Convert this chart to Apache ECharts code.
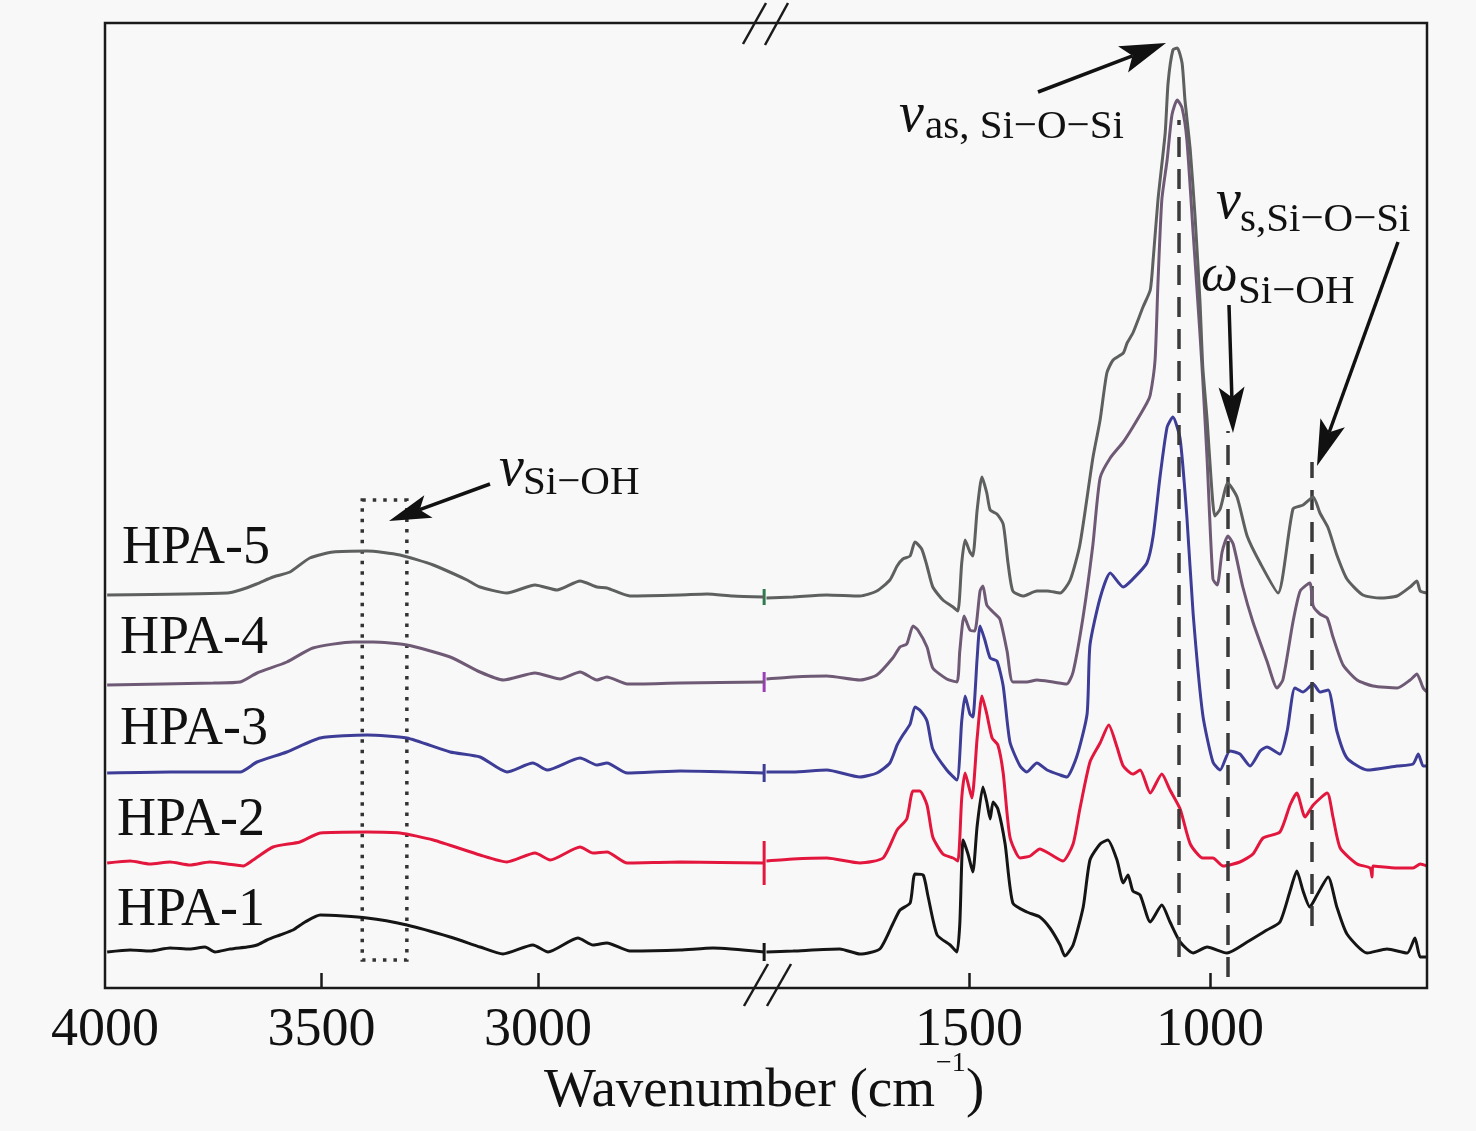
<!DOCTYPE html>
<html><head><meta charset="utf-8">
<script src="https://cdn.jsdelivr.net/npm/echarts@6/dist/echarts.min.js"></script>
<style>html,body{margin:0;padding:0;background:#f8f8f8}#c{width:1476px;height:1131px}</style>
</head><body><div id="c"></div><script>
// ---------------- data (wavenumber cm-1, relative absorbance, offset stacked) ----------------
const seriesNames = ['HPA-1', 'HPA-2', 'HPA-3', 'HPA-4', 'HPA-5'];
const leftTicks = [4000, 3500, 3000];
const rightTicks = [1500, 1000];
const leftRange = [2476, 4000];
const rightRange = [550, 1923];

const hpa1Left = [[3995,36],[3942,38],[3896,37],[3850,40],[3804,39],[3769,41],[3746,36],[3711,39],[3672,41],[3649,43],[3626,48],[3596,53],[3566,58],[3538,66],[3503,73],[3395,70],[3303,63],[3203,51],[3134,41],[3081,34],[3012,43],[2977,36],[2908,50],[2873,43],[2841,45],[2788,37],[2672,38],[2596,40],[2478,36]];
const hpa2Left = [[3995,125],[3942,127],[3896,124],[3850,126],[3804,123],[3758,126],[3718,124],[3681,122],[3658,128],[3612,141],[3550,146],[3503,155],[3395,156],[3319,155],[3242,148],[3134,133],[3072,126],[3007,135],[2972,128],[2903,141],[2873,135],[2841,136],[2794,125],[2672,126],[2478,125]];
const hpa3Left = [[3995,215],[3850,216],[3688,216],[3649,226],[3580,236],[3503,250],[3395,253],[3303,250],[3203,236],[3134,231],[3072,216],[3012,225],[2979,218],[2903,230],[2864,223],[2841,225],[2794,215],[2672,217],[2478,215]];
const hpa4Left = [[3995,303],[3750,305],[3688,306],[3649,315],[3580,326],[3520,340],[3427,346],[3381,346],[3303,343],[3203,331],[3134,316],[3080,308],[3007,315],[2949,309],[2903,316],[2864,308],[2841,311],[2794,304],[2672,305],[2478,306]];
const hpa5Left = [[3995,393],[3718,395],[3688,398],[3650,404],[3612,411],[3573,416],[3527,430],[3473,436],[3395,437],[3319,433],[3242,423],[3164,408],[3134,401],[3072,395],[3007,403],[2956,398],[2903,407],[2864,401],[2841,400],[2788,392],[2672,393],[2610,394],[2550,392],[2478,391]];

const hpa1Right = [[1920,36],[1865,37],[1768,39],[1726,34],[1685,39],[1658,64],[1643,78],[1622,85],[1612,114],[1595,113],[1585,92],[1566,53],[1539,43],[1525,36],[1519,64],[1512,148],[1502,134],[1492,116],[1483,162],[1471,201],[1463,186],[1456,169],[1450,186],[1440,179],[1425,144],[1409,85],[1380,76],[1353,71],[1332,60],[1311,43],[1301,32],[1284,43],[1263,81],[1249,128],[1228,144],[1212,148],[1193,128],[1180,105],[1170,113],[1160,97],[1145,93],[1124,66],[1100,83],[1083,66],[1062,46],[1035,35],[1006,41],[965,35],[923,46],[882,58],[855,66],[834,97],[820,117],[807,97],[793,81],[778,93],[755,111],[737,81],[716,54],[674,35],[633,39],[591,35],[575,50],[564,31],[550,31]];
const hpa2Right = [[1920,127],[1865,129],[1795,130],[1726,125],[1678,130],[1649,158],[1629,169],[1616,197],[1602,197],[1587,183],[1575,151],[1554,134],[1533,130],[1523,127],[1515,190],[1508,215],[1494,190],[1483,250],[1473,292],[1463,274],[1452,250],[1440,243],[1429,215],[1415,151],[1394,130],[1373,132],[1353,139],[1332,134],[1305,127],[1284,144],[1270,179],[1249,226],[1228,245],[1210,263],[1193,241],[1180,222],[1160,214],[1145,218],[1124,195],[1100,214],[1083,198],[1062,179],[1041,144],[1015,130],[994,130],[973,122],[938,126],[911,134],[890,150],[855,156],[834,183],[820,195],[803,171],[786,183],[757,195],[745,171],[730,140],[695,124],[668,120],[664,111],[662,122],[612,120],[579,120],[564,124],[550,122]];
const hpa3Right = [[1920,216],[1865,216],[1795,218],[1726,211],[1691,215],[1664,225],[1649,243],[1637,253],[1622,264],[1612,281],[1602,278],[1587,267],[1575,239],[1546,218],[1525,208],[1515,267],[1508,292],[1498,274],[1492,271],[1483,330],[1477,362],[1467,348],[1456,330],[1442,327],[1429,302],[1415,246],[1394,222],[1380,216],[1359,225],[1338,218],[1311,213],[1297,211],[1276,232],[1255,274],[1249,343],[1228,390],[1207,415],[1180,401],[1160,409],[1131,425],[1118,452],[1104,510],[1089,561],[1077,571],[1062,549],[1048,471],[1035,374],[1015,273],[994,226],[979,218],[959,237],[938,234],[917,222],[896,237],[882,241],[855,234],[840,257],[824,300],[807,296],[786,304],[772,296],[755,298],[737,257],[716,230],[674,218],[612,222],[579,224],[568,234],[558,222],[550,222]];
const hpa4Right = [[1920,309],[1865,311],[1795,312],[1726,308],[1691,313],[1658,330],[1643,341],[1629,344],[1616,362],[1606,358],[1587,341],[1575,320],[1546,309],[1525,306],[1519,337],[1510,372],[1498,358],[1488,357],[1477,397],[1471,402],[1463,383],[1450,376],[1436,369],[1421,337],[1409,306],[1380,306],[1359,308],[1326,306],[1297,304],[1284,316],[1263,372],[1243,443],[1228,510],[1207,530],[1180,546],[1160,561],[1131,585],[1124,593],[1114,628],[1108,705],[1100,788],[1089,828],[1079,873],[1068,888],[1058,880],[1048,848],[1035,755],[1021,655],[1015,608],[1006,528],[994,409],[985,403],[975,436],[963,452],[952,444],[932,401],[911,366],[882,327],[861,300],[849,308],[828,366],[813,397],[793,405],[786,382],[772,374],[757,370],[745,351],[724,323],[695,308],[662,302],[612,300],[585,308],[571,314],[558,300],[550,296]];
const hpa5Right = [[1920,390],[1865,391],[1795,393],[1726,392],[1691,397],[1664,408],[1649,422],[1637,429],[1622,432],[1612,446],[1598,439],[1587,422],[1575,401],[1554,388],[1533,381],[1523,377],[1515,425],[1508,448],[1498,436],[1492,432],[1483,478],[1473,511],[1463,495],[1456,478],[1442,474],[1429,464],[1419,425],[1409,397],[1388,392],[1359,397],[1338,397],[1311,395],[1290,408],[1270,443],[1243,530],[1228,568],[1214,615],[1201,628],[1180,635],[1172,645],[1160,655],[1139,681],[1124,698],[1118,728],[1108,788],[1093,855],[1087,905],[1077,938],[1068,940],[1058,925],[1052,888],[1041,838],[1031,771],[1021,688],[1015,621],[1006,568],[998,510],[990,472],[979,479],[963,505],[944,491],[923,452],[896,425],[859,395],[828,479],[807,483],[786,491],[772,475],[755,460],[737,433],[716,409],[683,393],[647,390],[612,392],[585,401],[571,407],[564,397],[550,395]];

// annotation guides (data coordinates)
const guideWavenumbers = [1064, 963, 788];
const guideSpans = [[31, 868], [11, 557], [62, 526]];
const siOHBox = [3406, 3303, 28, 488];
const breakTickSizes = [18, 44, 18, 20, 16];

// ---------------- styles ----------------
const lineColors = ['#151515', '#e3173d', '#3d3d98', '#6f5a75', '#5d605e'];
const breakColors = ['#151515', '#e3173d', '#3d3d98', '#9a3fb8', '#2f7a50'];
const FONT = 'Liberation Serif';
const leftData = [hpa1Left, hpa2Left, hpa3Left, hpa4Left, hpa5Left];
const rightData = [hpa1Right, hpa2Right, hpa3Right, hpa4Right, hpa5Right];

const series = [];
for (let i = 0; i < 5; i++) {
  const last = leftData[i][leftData[i].length - 1];
  const s = {
    name: seriesNames[i] + '-L', type: 'line', xAxisIndex: 0, yAxisIndex: 0,
    data: leftData[i], showSymbol: false, smooth: 0.2, silent: true,
    lineStyle: { width: 3, color: lineColors[i] }, z: 2 + i,
    markPoint: {
      symbol: 'rect', symbolSize: [3, breakTickSizes[i]], silent: true,
      label: { show: false }, itemStyle: { color: breakColors[i] },
      data: [{ coord: [last[0], last[1]] }]
    }
  };
  if (i === 0) {
    s.markArea = {
      silent: true,
      itemStyle: { color: 'rgba(0,0,0,0)', borderColor: '#333', borderWidth: 3.5, borderType: [3.5, 7] },
      data: [[{ coord: [siOHBox[0], siOHBox[3]] }, { coord: [siOHBox[1], siOHBox[2]] }]]
    };
  }
  series.push(s);
  const r = {
    name: seriesNames[i] + '-R', type: 'line', xAxisIndex: 1, yAxisIndex: 1,
    data: rightData[i], showSymbol: false, smooth: 0.2, silent: true,
    lineStyle: { width: 3, color: lineColors[i] }, z: 2 + i
  };
  if (i === 4) {
    r.markLine = {
      silent: true, symbol: 'none', label: { show: false },
      lineStyle: { color: '#3a3a3a', width: 3.5, type: [20, 12] },
      data: guideWavenumbers.map((w, k) => [{ coord: [w, guideSpans[k][0]] }, { coord: [w, guideSpans[k][1]] }])
    };
  }
  series.push(r);
}

function arrow(x1, y1, x2, y2, hl, hw) {
  const dx = x2 - x1, dy = y2 - y1, L = Math.hypot(dx, dy), ux = dx / L, uy = dy / L;
  const bx = x2 - ux * hl, by = y2 - uy * hl;
  const px = -uy * hw / 2, py = ux * hw / 2;
  const nx = bx + ux * hl * 0.22, ny = by + uy * hl * 0.22;
  return [
    { type: 'line', z: 50, shape: { x1: x1, y1: y1, x2: nx, y2: ny }, style: { stroke: '#111', lineWidth: 3.5 } },
    { type: 'polygon', z: 50, shape: { points: [[x2, y2], [bx + px, by + py], [nx, ny], [bx - px, by - py]] }, style: { fill: '#111' } }
  ];
}
function txt(x, y, t, size, opts) {
  return Object.assign({ type: 'text', z: 60, x: x, y: y,
    style: Object.assign({ text: t, font: size + 'px "' + FONT + '"', fill: '#111', align: 'left', verticalAlign: 'middle' }, opts || {}) });
}
function italic(x, y, t, size) {
  return { type: 'text', z: 60, x: x, y: y,
    style: { text: t, font: 'italic ' + size + 'px "' + FONT + '"', fill: '#111', align: 'left', verticalAlign: 'middle' } };
}

const graphics = [
  { type: 'rect', z: 40, shape: { x: 105, y: 23, width: 1322, height: 965 }, style: { fill: 'none', stroke: '#1a1a1a', lineWidth: 2.5 } },
  // axis-break marks
  { type: 'line', z: 41, shape: { x1: 743, y1: 44, x2: 766, y2: 3 }, style: { stroke: '#1a1a1a', lineWidth: 2.5 } },
  { type: 'line', z: 41, shape: { x1: 765, y1: 45, x2: 788, y2: 3 }, style: { stroke: '#1a1a1a', lineWidth: 2.5 } },
  { type: 'line', z: 41, shape: { x1: 744, y1: 1006, x2: 768, y2: 964 }, style: { stroke: '#1a1a1a', lineWidth: 2.5 } },
  { type: 'line', z: 41, shape: { x1: 767, y1: 1006, x2: 791, y2: 964 }, style: { stroke: '#1a1a1a', lineWidth: 2.5 } },
  // series labels
  txt(122, 549, 'HPA-5', 54), txt(120, 639, 'HPA-4', 54), txt(120, 730, 'HPA-3', 54),
  txt(117, 821, 'HPA-2', 54), txt(117, 911, 'HPA-1', 54),
  // annotations
  italic(499, 470, 'v', 56), txt(523, 483, 'Si\u2212OH', 41),
  italic(899, 116, 'v', 56), txt(925, 127, 'as, Si\u2212O\u2212Si', 41),
  italic(1216, 203, 'v', 56), txt(1240, 220, 's,Si\u2212O\u2212Si', 41),
  italic(1201, 276, '\u03c9', 52), txt(1238, 292, 'Si\u2212OH', 41),
  // axis title
  txt(935, 1092, 'Wavenumber (cm', 55, { align: 'right' }),
  txt(936, 1064, '\u22121', 28),
  txt(966, 1092, ')', 55)
].concat(
  arrow(1038, 92, 1166, 43, 46, 28),
  arrow(1229, 305, 1233, 433, 46, 26),
  arrow(1398, 242, 1317, 466, 46, 26),
  arrow(490, 484, 389, 521, 42, 24)
);

const axisTick = { inside: true, length: 15, lineStyle: { color: '#1a1a1a', width: 2.5 } };
const axisLabel = { fontFamily: FONT, fontSize: 54, color: '#111', margin: 16, formatter: (v) => String(v) };

const option = {
  backgroundColor: '#f8f8f8',
  animation: false,
  grid: [
    { left: 105, top: 23, width: 660, height: 965 },
    { left: 765, top: 23, width: 662, height: 965 }
  ],
  xAxis: [
    { gridIndex: 0, type: 'value', min: leftRange[0], max: leftRange[1], inverse: true,
      axisLine: { show: false }, splitLine: { show: false },
      axisTick: Object.assign({ customValues: leftTicks.slice(1) }, axisTick),
      axisLabel: Object.assign({ customValues: leftTicks }, axisLabel) },
    { gridIndex: 1, type: 'value', min: rightRange[0], max: rightRange[1], inverse: true,
      axisLine: { show: false }, splitLine: { show: false },
      axisTick: Object.assign({ customValues: rightTicks }, axisTick),
      axisLabel: Object.assign({ customValues: rightTicks }, axisLabel) }
  ],
  yAxis: [
    { gridIndex: 0, type: 'value', min: 0, max: 965, show: false },
    { gridIndex: 1, type: 'value', min: 0, max: 965, show: false }
  ],
  series: series,
  graphic: graphics
};
const chart = echarts.init(document.getElementById('c'), null, { renderer: 'canvas' });
chart.setOption(option);
</script></body></html>
